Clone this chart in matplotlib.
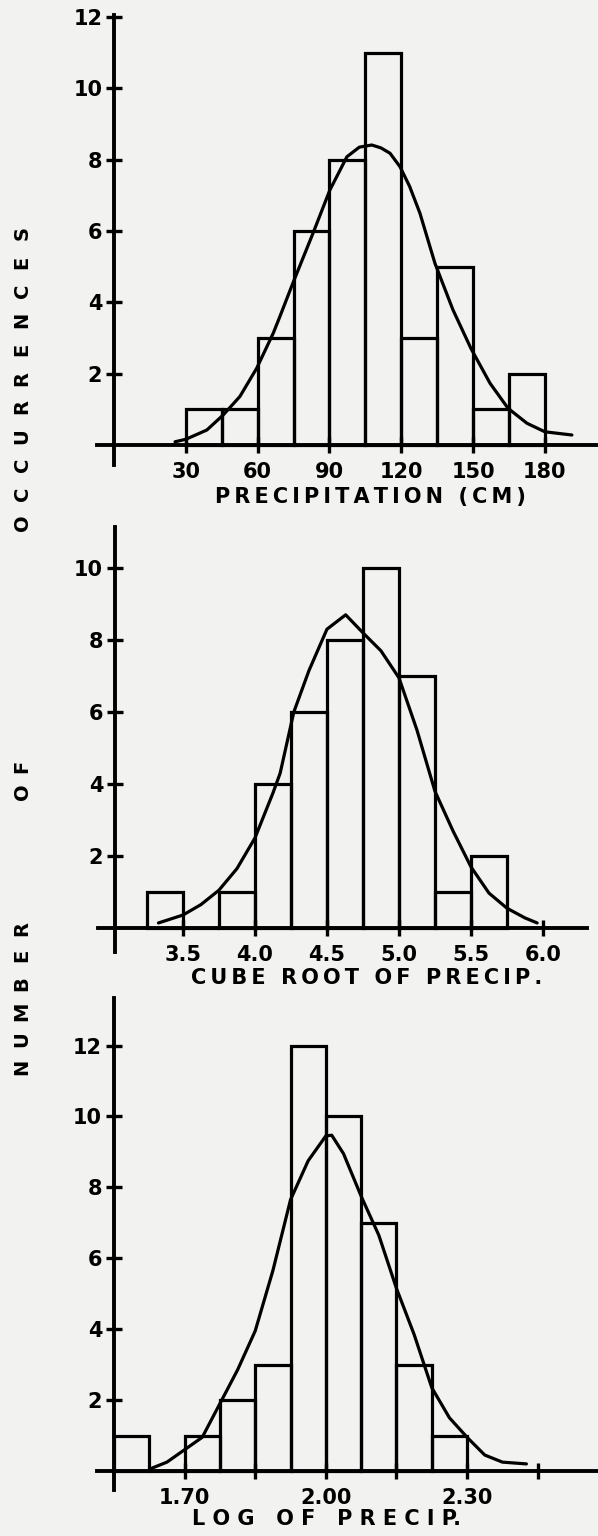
import numpy as np
import matplotlib
matplotlib.use("Agg")
import matplotlib.pyplot as plt

W, H = 598, 1536
BG = "#f2f2f0"

# ---- data ----
precip_bins = [30, 45, 60, 75, 90, 105, 120, 135, 150, 165, 180]
precip_counts = [1, 1, 3, 6, 8, 11, 3, 5, 1, 2]
precip_curve_x = [25.5, 30, 38.8, 45.6, 52.6, 59.6, 66.5, 69.3, 74.8, 83.1, 90.2, 97.3,
                  102.5, 107.7, 111.5, 115.3, 119.5, 123.5, 127.8, 134.1, 141.6, 149.1,
                  157.1, 164.6, 172.5, 180, 191.3]
precip_curve_y = [0.09, 0.16, 0.42, 0.84, 1.36, 2.15, 3.13, 3.6, 4.55, 5.93, 7.15, 8.08,
                  8.35, 8.41, 8.33, 8.18, 7.8, 7.25, 6.5, 5.09, 3.79, 2.71,
                  1.73, 1.03, 0.61, 0.37, 0.28]

cube_bins = [3.25, 3.50, 3.75, 4.00, 4.25, 4.50, 4.75, 5.00, 5.25, 5.50, 5.75]
cube_counts = [1, 0, 1, 4, 6, 8, 10, 7, 1, 2]
cube_curve_x = [3.33, 3.5, 3.625, 3.75, 3.875, 4.0, 4.125, 4.175, 4.27, 4.375, 4.5, 4.63,
                4.75, 4.875, 5.0, 5.125, 5.25, 5.375, 5.5, 5.625, 5.75, 5.875, 5.96]
cube_curve_y = [0.14, 0.36, 0.65, 1.05, 1.65, 2.5, 3.75, 4.3, 6.0, 7.15, 8.3, 8.7,
                8.2, 7.7, 6.95, 5.5, 3.8, 2.7, 1.7, 0.97, 0.55, 0.28, 0.14]

log_bins = [1.55, 1.625, 1.70, 1.775, 1.85, 1.925, 2.00, 2.075, 2.15, 2.225, 2.30]
log_counts = [1, 0, 1, 2, 3, 12, 10, 7, 3, 1]
log_curve_x = [1.625, 1.6625, 1.70, 1.7375, 1.775, 1.8125, 1.85, 1.8875, 1.925, 1.9625,
               2.00, 2.0125, 2.0375, 2.075, 2.1125, 2.15, 2.1875, 2.225, 2.2625, 2.30,
               2.3375, 2.375, 2.426]
log_curve_y = [0.05, 0.25, 0.6, 0.95, 1.9, 2.85, 3.95, 5.65, 7.65, 8.75,
               9.45, 9.47, 8.95, 7.75, 6.65, 5.15, 3.85, 2.35, 1.5, 0.95,
               0.45, 0.25, 0.2]

precip_xticks = [30, 60, 90, 120, 150, 180]
cube_xticks = [3.5, 4.0, 4.5, 5.0, 5.5, 6.0]
log_xticks = [1.70, 1.85, 2.00, 2.15, 2.30, 2.45]
log_xlabels = ["1.70", "", "2.00", "", "2.30", ""]

plt.rcParams["font.family"] = ["DejaVu Sans"]
plt.rcParams["font.weight"] = "bold"

fig = plt.figure(figsize=(W / 100, H / 100), dpi=100, facecolor=BG)


def px_axes(left, right, top, bottom):
    return fig.add_axes([left / W, 1 - bottom / H, (right - left) / W, (bottom - top) / H])


def panel(ax, bins, counts, cx, cy, x0, xlim, ylim, xticks, xlabels, yticks):
    ax.patch.set_visible(False)
    ax.bar(bins[:-1], counts, width=np.diff(bins), align="edge", fill=False,
           edgecolor="black", linewidth=2.3)
    ax.plot(cx, cy, color="black", lw=2.3, solid_joinstyle="round", solid_capstyle="round")
    ax.set_xlim(*xlim)
    ax.set_ylim(*ylim)
    for s in ["top", "right"]:
        ax.spines[s].set_visible(False)
    ax.spines["left"].set_position(("data", x0))
    ax.spines["bottom"].set_position(("data", 0))
    for s in ["left", "bottom"]:
        ax.spines[s].set_linewidth(2.8)
    ax.set_xticks(xticks)
    ax.set_xticklabels(xlabels)
    ax.set_yticks(yticks)
    ax.set_yticklabels([str(v) for v in yticks])
    ax.tick_params(direction="inout", length=11, width=2.4, labelsize=15)
    ax.tick_params(axis="x", pad=7)
    ax.tick_params(axis="y", pad=3)


ax1 = px_axes(97, 598, 15, 465)
panel(ax1, precip_bins, precip_counts, precip_curve_x, precip_curve_y, 0,
      (-7.1, 202.2), (-0.561, 12.055), precip_xticks,
      [str(v) for v in precip_xticks], [2, 4, 6, 8, 10, 12])

ax2 = px_axes(98, 587, 527, 952)
panel(ax2, cube_bins, cube_counts, cube_curve_x, cube_curve_y, 3.028,
      (2.910, 6.306), (-0.667, 11.139), cube_xticks,
      ["%.1f" % v for v in cube_xticks], [2, 4, 6, 8, 10])

ax3 = px_axes(97, 598, 998, 1490)
panel(ax3, log_bins, log_counts, log_curve_x, log_curve_y, 1.55,
      (1.514, 2.578), (-0.536, 13.34), log_xticks, log_xlabels,
      [2, 4, 6, 8, 10, 12])

# x axis titles (slightly letter-spaced like the lettering guide)
def spaced(s, sep="\u2009"):
    return sep.join(s)

fig.text(370 / W, 1 - 497 / H, spaced("PRECIPITATION (CM)"), ha="center", va="center",
         fontsize=15, fontweight="bold")
fig.text(367 / W, 1 - 978 / H, spaced("CUBE ROOT OF PRECIP."), ha="center", va="center",
         fontsize=15, fontweight="bold")
fig.text(327 / W, 1 - 1519 / H, "L O G   O F   P R E C I P.", ha="center", va="center",
         fontsize=15, fontweight="bold")

# vertical y title, one letter at a time, reading bottom to top
words = [("NUMBER", 1067, 27.8), ("OF", 792, 26), ("OCCURRENCES", 523, 29)]
for word, ystart, pitch in words:
    for i, ch in enumerate(word):
        fig.text(22 / W, 1 - (ystart - i * pitch) / H, ch, rotation=90, ha="center",
                 va="center", fontsize=14, fontweight="bold")

fig.savefig("out.png", dpi=100, facecolor=BG)
